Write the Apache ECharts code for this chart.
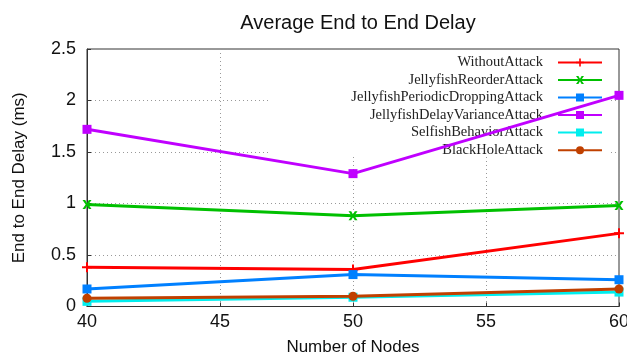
<!DOCTYPE html>
<html>
<head>
<meta charset="utf-8">
<script src="https://cdn.jsdelivr.net/npm/echarts@6/dist/echarts.min.js"></script>
<style>html,body{margin:0;padding:0;background:#fff}#c{width:627px;height:356px}</style>
</head>
<body>
<div id="c"></div>
<script>
var nodes = [40, 50, 60];
var seriesNames = ['WithoutAttack','JellyfishReorderAttack','JellyfishPeriodicDroppingAttack','JellyfishDelayVarianceAttack','SelfishBehaviorAttack','BlackHoleAttack'];
var withoutAttack = [0.38, 0.36, 0.71];
var reorderAttack = [0.99, 0.88, 0.98];
var periodicDroppingAttack = [0.17, 0.31, 0.26];
var delayVarianceAttack = [1.72, 1.29, 2.05];
var selfishBehaviorAttack = [0.05, 0.09, 0.14];
var blackHoleAttack = [0.08, 0.10, 0.17];
var xTicks = [40, 45, 50, 55, 60];
var yTicks = [0, 0.5, 1, 1.5, 2, 2.5];

var values = [withoutAttack, reorderAttack, periodicDroppingAttack, delayVarianceAttack, selfishBehaviorAttack, blackHoleAttack];
var colors = ['#ff0000','#00c000','#0080ff','#c000ff','#00eeee','#c04000'];
var plusPath = 'path://M4,0 L6,0 L6,4 L10,4 L10,6 L6,6 L6,10 L4,10 L4,6 L0,6 L0,4 L4,4 Z';
var crossPath = 'path://M0,0 L3,0 L5,3.5 L7,0 L10,0 L6.5,5 L10,10 L7,10 L5,6.5 L3,10 L0,10 L3.5,5 Z';
var symbols = [plusPath, crossPath, 'rect', 'rect', 'rect', 'circle'];
var symbolSizes = [10, 9, 9, 9, 9, 9];

function pairs(arr){ return nodes.map(function(n,i){ return [n, arr[i]]; }); }

var series = seriesNames.map(function(name, i){
  return {
    name: name, type: 'line', data: pairs(values[i]),
    symbol: symbols[i], symbolSize: symbolSizes[i], showAllSymbol: true,
    lineStyle: {color: colors[i], width: 3},
    itemStyle: {color: colors[i]},
    z: 3 + i * 0.1, clip: false, animation: false
  };
});

var rowTops = [55, 72.5, 90, 107.5, 125, 142.7];
var legends = seriesNames.map(function(name, i){
  return {
    data: [name], orient: 'vertical', right: 24, top: rowTops[i],
    align: 'right', itemWidth: 44, itemHeight: 10, itemGap: 0,
    z: 2, padding: 0,
    textStyle: {fontFamily: 'Liberation Serif', fontSize: 14.5, color: '#222', padding: [0, 10, 0, 0]},
    selectedMode: false
  };
});

var chart = echarts.init(document.getElementById('c'), null, {renderer: 'canvas'});
chart.setOption({
  animation: false,
  backgroundColor: '#fff',
  title: {
    text: 'Average End to End Delay', left: 353, textAlign: 'center', top: 8,
    textStyle: {fontFamily: 'Liberation Sans', fontSize: 20, fontWeight: 'normal', color: '#111'}
  },
  legend: legends,
  grid: {left: 87, right: 8, top: 49, bottom: 49.5, show: true, borderColor: '#333', borderWidth: 1,
    backgroundColor: 'transparent', containLabel: false, outerBoundsMode: 'none'},
  graphic: [{type: 'rect', shape: {x: 270, y: 53, width: 340, height: 104}, style: {fill: '#fff'}, z: 1, silent: true}],
  xAxis: {
    type: 'value', min: xTicks[0], max: xTicks[xTicks.length-1], interval: 5,
    name: 'Number of Nodes', nameLocation: 'middle', nameGap: 32,
    nameTextStyle: {fontFamily: 'Liberation Sans', fontSize: 17, color: '#111'},
    axisLine: {show: true, lineStyle: {color: '#333', width: 1}},
    axisTick: {show: true, inside: true, length: 4, lineStyle: {color: '#333'}},
    axisLabel: {fontFamily: 'Liberation Sans', fontSize: 18, color: '#111', margin: 7, hideOverlap: false},
    splitLine: {show: true, lineStyle: {color: '#999', type: [1, 3], width: 1}}
  },
  yAxis: {
    type: 'value', min: yTicks[0], max: yTicks[yTicks.length-1], interval: 0.5,
    name: 'End to End Delay (ms)', nameLocation: 'middle', nameGap: 59,
    nameTextStyle: {fontFamily: 'Liberation Sans', fontSize: 17, color: '#111'},
    axisLine: {show: true, lineStyle: {color: '#333', width: 1}},
    axisTick: {show: true, inside: true, length: 4, lineStyle: {color: '#333'}},
    axisLabel: {fontFamily: 'Liberation Sans', fontSize: 18, color: '#111', margin: 11,
      formatter: function(v){ return String(v); }},
    splitLine: {show: true, lineStyle: {color: '#999', type: [1, 3], width: 1}}
  },
  series: series
});
</script>
</body>
</html>
